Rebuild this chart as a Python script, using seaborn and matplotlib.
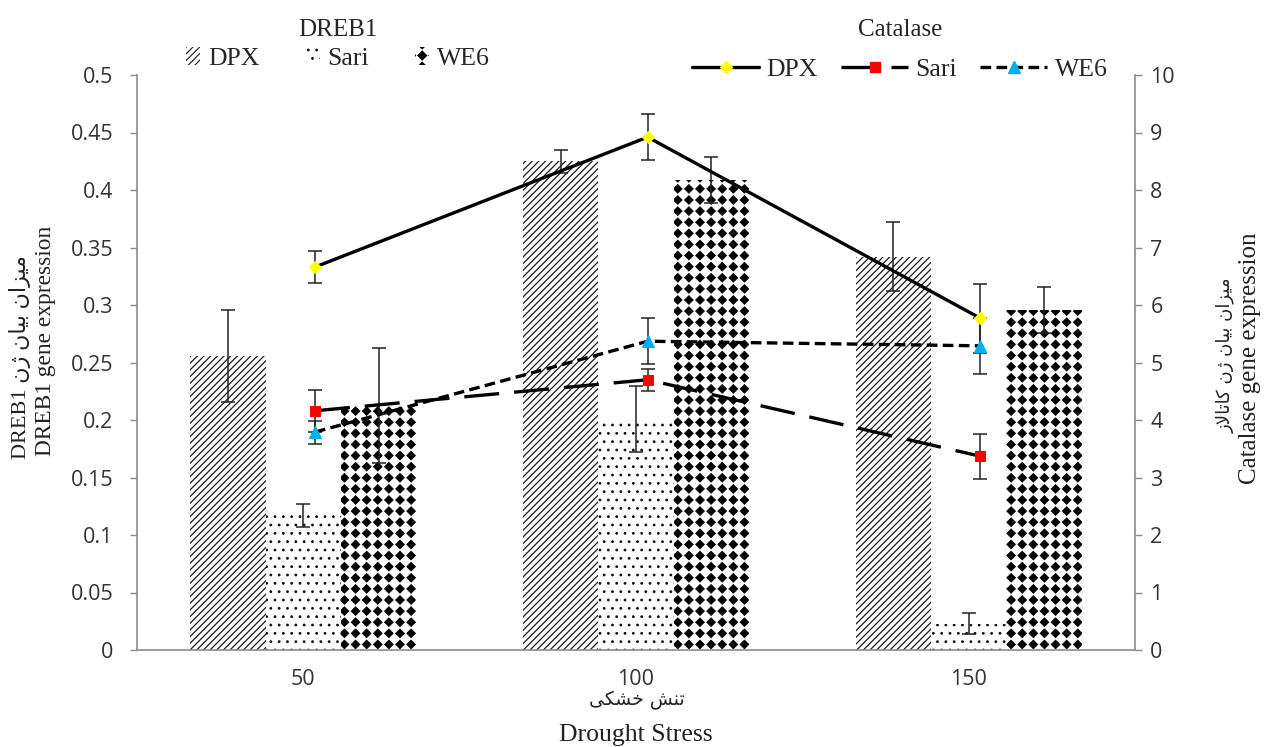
import matplotlib
matplotlib.use("Agg")
import matplotlib.pyplot as plt
import matplotlib.hatch as mhatch
from matplotlib.path import Path
import seaborn as sns
import pandas as pd
import numpy as np
from matplotlib.patches import Patch
from matplotlib.lines import Line2D

# ---------------- data ----------------
stress = ["50", "100", "150"]
cultivars = ["DPX", "Sari", "WE6"]

dreb1_dpx = [0.256, 0.425, 0.342]
dreb1_dpx_err = [0.040, 0.010, 0.030]
dreb1_sari = [0.117, 0.201, 0.023]
dreb1_sari_err = [0.010, 0.029, 0.009]
dreb1_we6 = [0.213, 0.409, 0.296]
dreb1_we6_err = [0.050, 0.020, 0.020]

cat_dpx = [6.66, 8.92, 5.77]
cat_dpx_err = [0.28, 0.40, 0.60]
cat_sari = [4.16, 4.70, 3.37]
cat_sari_err = [0.36, 0.19, 0.39]
cat_we6 = [3.79, 5.37, 5.29]
cat_we6_err = [0.20, 0.40, 0.49]

left_ticks = [0, 0.05, 0.1, 0.15, 0.2, 0.25, 0.3, 0.35, 0.4, 0.45, 0.5]
left_ticklabels = ["0", "0.05", "0.1", "0.15", "0.2", "0.25", "0.3", "0.35", "0.4", "0.45", "0.5"]
right_ticks = list(range(0, 11))

title_dreb = "DREB1"
title_cat = "Catalase"
xlabel_en = "Drought Stress"
xlabel_fa = "\uFBFD\uFB91\uFEB8\uFEA7 \uFEB6\uFEE8\uFE97"          # تنش خشکی
fa_expr = "\uFEE5\uFB8A \uFEE5\uFE8E\uFBFF\uFE91 \uFEE5\uFE8D\uFEB0\uFBFF\uFEE3"  # میزان بیان ژن
fa_cat = "\uFEAF\uFEFB\uFE8E\uFE97\uFE8E\uFB90"                       # کاتالاز
ylabel_left_fa = "DREB1 " + fa_expr
ylabel_left_en = "DREB1 gene expression"
ylabel_right_fa = fa_cat + " " + fa_expr
ylabel_right_en = "Catalase gene expression"


# ---------------- custom "solid diamond" hatch (replaces the '*' hatch) ----------------
class DiamondGrid(mhatch.HatchPatternBase):
    def __init__(self, hatch, density):
        self.n = int(round(hatch.count("*") * density * 1.5))
        self.num_vertices = (self.n + 1) ** 2 * 5 if self.n else 0

    def set_vertices_and_codes(self, vertices, codes):
        n = self.n
        h = 0.40 / n
        k = 0
        for i in range(n + 1):
            for j in range(n + 1):
                cx, cy = i / n, j / n
                vertices[k:k + 5] = [(cx, cy + h), (cx - h, cy), (cx, cy - h),
                                     (cx + h, cy), (cx, cy + h)]
                codes[k:k + 5] = [Path.MOVETO, Path.LINETO, Path.LINETO,
                                  Path.LINETO, Path.CLOSEPOLY]
                k += 5


mhatch._hatch_types = [DiamondGrid if t is mhatch.Stars else t for t in mhatch._hatch_types]

# ---------------- style ----------------
sns.set_theme(style="white")
plt.rcParams["font.family"] = ["Liberation Serif", "DejaVu Sans"]
plt.rcParams["hatch.linewidth"] = 0.8

SERIF = ["Liberation Serif", "DejaVu Sans"]
TICKFONT = "Open Sans"
SPINE = "#8c8c8c"
TXT = "#222222"

fig = plt.figure(figsize=(12.65, 7.47), dpi=100)
ax = fig.add_axes([137 / 1265, 1 - 650 / 747, (1135 - 137) / 1265, (650 - 75) / 747])

df = pd.DataFrame({
    "stress": np.repeat([stress], 3, axis=0).ravel(),
    "cultivar": np.repeat(cultivars, 3),
    "value": dreb1_dpx + dreb1_sari + dreb1_we6,
})
errs = dreb1_dpx_err + dreb1_sari_err + dreb1_we6_err

sns.barplot(data=df, x="stress", y="value", hue="cultivar", order=stress,
            hue_order=cultivars, width=0.68, errorbar=None, legend=False,
            palette=["white", "white", "white"], ax=ax, saturation=1)

bar_styles = {
    "DPX": dict(face="white", hcol="#1a1a1a", hatch="/////", hlw=0.9),
    "Sari": dict(face="white", hcol="#111111", hatch="..", hlw=0.8),
    "WE6": dict(face="white", hcol="black", hatch="*", hlw=0.5),
}


def style_patch(p, st):
    p.set_facecolor(st["face"])
    p.set_edgecolor(st["hcol"])
    p.set_linewidth(0)
    p.set_hatch(st["hatch"])
    if hasattr(p, "set_hatch_linewidth"):
        p.set_hatch_linewidth(st["hlw"])


bars = [p for p in ax.patches]
for i, p in enumerate(bars):
    style_patch(p, bar_styles[cultivars[i // 3]])

xs = [p.get_x() + p.get_width() / 2 for p in bars]
hs = [p.get_height() for p in bars]
ax.errorbar(xs, hs, yerr=errs, fmt="none", ecolor="#222222", elinewidth=1.1,
            capsize=5, capthick=1.1, zorder=5)

ax.set_xlim(-0.5, 2.5)
ax.set_ylim(0, 0.5)
ax.set_yticks(left_ticks)
ax.set_yticklabels(left_ticklabels)
ax.set_xticks([0, 1, 2])
ax.set_xticklabels(stress)
ax.set_xticks([-0.5, 0.5, 1.5, 2.5], minor=True)
ax.tick_params(axis="x", which="major", length=0, pad=14)
ax.tick_params(axis="x", which="minor", length=5, width=1, color=SPINE, direction="out")
ax.tick_params(axis="y", length=5, width=1, color=SPINE, direction="out", pad=12, left=True)
for lab in ax.get_xticklabels() + ax.get_yticklabels():
    lab.set_fontfamily(TICKFONT)
    lab.set_fontsize(15.5)
    lab.set_color("#333333")
ax.set_xlabel("")
ax.set_ylabel("")
for s in ["top", "right"]:
    ax.spines[s].set_visible(False)
for s in ["left", "bottom"]:
    ax.spines[s].set_color(SPINE)
    ax.spines[s].set_linewidth(1.2)

# ---------------- lines on twin axis ----------------
ax2 = ax.twinx()
ax2.set_ylim(0, 10)
xline = np.arange(len(stress)) + 0.035
line_specs = [
    ("DPX", cat_dpx, cat_dpx_err, dict(ls="-", marker="D", mfc="#FFFF00", ms=6.5)),
    ("Sari", cat_sari, cat_sari_err, dict(ls=(0, (10.5, 4.5)), marker="s", mfc="#FF0000", ms=6.5)),
    ("WE6", cat_we6, cat_we6_err, dict(ls=(0, (3.2, 1.6)), marker="^", mfc="#00B0F0", ms=8)),
]
line_handles = []
for name, vals, err, st in line_specs:
    ldf = pd.DataFrame({"x": xline, "y": vals})
    sns.lineplot(data=ldf, x="x", y="y", ax=ax2, color="black", lw=2.4,
                 linestyle=st["ls"], marker=st["marker"], markerfacecolor=st["mfc"],
                 markeredgecolor=st["mfc"], markersize=st["ms"], zorder=4,
                 estimator=None, sort=False)
    ax2.errorbar(xline, vals, yerr=err, fmt="none", ecolor="#222222", elinewidth=1.1,
                 capsize=5, capthick=1.1, zorder=3)
    line_handles.append(Line2D([], [], color="black", lw=2.4, linestyle=st["ls"],
                               marker=st["marker"], markerfacecolor=st["mfc"],
                               markeredgecolor=st["mfc"], markersize=st["ms"]))
ax2.set_yticks(right_ticks)
ax2.set_xlim(-0.5, 2.5)
ax2.set_xlabel("")
ax2.set_ylabel("")
ax2.tick_params(axis="y", length=5, width=1, color=SPINE, direction="out", pad=6, right=True)
for lab in ax2.get_yticklabels():
    lab.set_fontfamily(TICKFONT)
    lab.set_fontsize(15.5)
    lab.set_color("#333333")
for s in ["top", "left", "bottom"]:
    ax2.spines[s].set_visible(False)
ax2.spines["right"].set_color(SPINE)
ax2.spines["right"].set_linewidth(1.2)

# ---------------- legends ----------------
bar_handles = []
for c in cultivars:
    ph = Patch()
    style_patch(ph, bar_styles[c])
    bar_handles.append(ph)
leg1 = fig.legend(bar_handles, cultivars, title=title_dreb, ncol=3, frameon=False,
                  loc="upper center", bbox_to_anchor=(338 / 1265, 1 - 9 / 747),
                  prop={"family": SERIF, "size": 18.5},
                  title_fontproperties={"family": SERIF, "size": 18},
                  handlelength=0.55, handleheight=0.7, handletextpad=0.3, columnspacing=1.8,
                  borderaxespad=0, labelspacing=0.1)
leg1._legend_box.sep = 4
leg2 = fig.legend(line_handles, cultivars, title=title_cat, ncol=3, frameon=False,
                  loc="upper center", bbox_to_anchor=(900 / 1265, 1 - 9 / 747),
                  prop={"family": SERIF, "size": 18.5},
                  title_fontproperties={"family": SERIF, "size": 18},
                  handlelength=2.6, handletextpad=0.3, columnspacing=0.9,
                  borderaxespad=0, labelspacing=0.5)
leg2._legend_box.sep = 12

# ---------------- axis labels ----------------
fig.text(637 / 1265, 1 - 700 / 747, xlabel_fa, ha="center", va="center",
         family=["DejaVu Sans"], fontsize=13.5, color=TXT)
fig.text(636 / 1265, 1 - 735 / 747, xlabel_en, ha="center", va="center",
         family=SERIF, fontsize=18.5, color=TXT)
fig.text(20 / 1265, 1 - 357 / 747, ylabel_left_fa, ha="center", va="center", rotation=90,
         family=SERIF, fontsize=16, color=TXT)
fig.text(46 / 1265, 1 - 341 / 747, ylabel_left_en, ha="center", va="center", rotation=90,
         family=SERIF, fontsize=16.8, color=TXT)
fig.text(1225 / 1265, 1 - 355 / 747, ylabel_right_fa, ha="center", va="center", rotation=90,
         family=["DejaVu Sans"], fontsize=13, color=TXT)
fig.text(1250 / 1265, 1 - 358 / 747, ylabel_right_en, ha="center", va="center", rotation=90,
         family=SERIF, fontsize=18, color=TXT)

fig.savefig("out.png", dpi=100)
